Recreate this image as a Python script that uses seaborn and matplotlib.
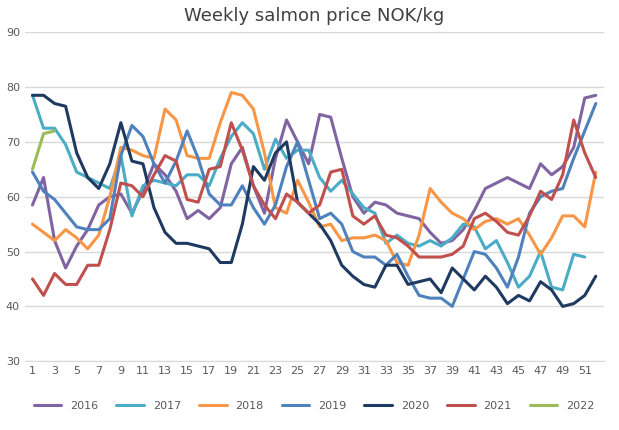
import numpy as np
import pandas as pd
import matplotlib
matplotlib.use("Agg")
import matplotlib.pyplot as plt
import seaborn as sns

weeks = list(range(1, 53))
nan = np.nan

s2016 = [58.5, 63.5, 52, 47, 51, 54, 58.5, 60, 60.5, 57, 61, 66, 64, 61, 56, 57.5, 56, 58, 66, 69,
         62, 57, 67, 74, 70, 66, 75, 74.5, 67, 60, 57, 59, 58.5, 57, 56.5, 56, 53.5, 51.5, 52, 54,
         57.5, 61.5, 62.5, 63.5, 62.5, 61.5, 66, 64, 65.5, 69, 78, 78.5]
s2017 = [78.5, 72.5, 72.5, 69.5, 64.5, 63.5, 62.5, 61.5, 67.5, 56.5, 62, 63, 62.5, 62, 64, 64, 62, 67, 71, 73.5,
         71.5, 65, 70.5, 67, 68.5, 68.5, 63.5, 61, 63, 60.5, 58, 57, 51.5, 53, 51.5, 51, 52, 51, 52.5, 55,
         54.5, 50.5, 52, 48, 43.5, 45.5, 50, 43.5, 43, 49.5, 49, nan]
s2018 = [55, 53.5, 52, 54, 52.5, 50.5, 53, 60, 69, 68.5, 67.5, 67, 76, 74, 67.5, 67, 67, 73.5, 79, 78.5,
         76, 68, 58, 57, 63, 59, 54.5, 55, 52, 52.5, 52.5, 53, 52, 48, 47.5, 53, 61.5, 59, 57, 56,
         54, 55.5, 56, 55, 56, 53, 49.5, 52.5, 56.5, 56.5, 54.5, 64.5]
s2019 = [64.5, 61, 59.5, 57, 54.5, 54, 54, 56, 67.5, 73, 71, 66, 62.5, 66.5, 72, 67, 60.5, 58.5, 58.5, 62,
         58, 55, 58.5, 65.5, 70, 63, 56, 57, 55, 50, 49, 49, 47.5, 49.5, 45.5, 42, 41.5, 41.5, 40, 45,
         50, 49.5, 47, 43.5, 49, 57, 60, 61, 61.5, 67, 72, 77]
s2020 = [78.5, 78.5, 77, 76.5, 68, 63.5, 61.5, 66, 73.5, 66.5, 66, 58, 53.5, 51.5, 51.5, 51, 50.5, 48, 48, 55,
         65.5, 63, 68, 70, 59, 57, 55, 52, 47.5, 45.5, 44, 43.5, 47.5, 47.5, 44, 44.5, 45, 42.5, 47, 45,
         43, 45.5, 43.5, 40.5, 42, 41, 44.5, 43, 40, 40.5, 42, 45.5]
s2021 = [45, 42, 46, 44, 44, 47.5, 47.5, 54, 62.5, 62, 60, 64, 67.5, 66.5, 59.5, 59, 65, 65.5, 73.5, 68.5,
         62, 58.5, 56, 60.5, 59, 57, 58.5, 64.5, 65, 56.5, 55, 56.5, 53, 52.5, 51, 49, 49, 49, 49.5, 51,
         56, 57, 55.5, 53.5, 53, 56.5, 61, 59.5, 64, 74, 68, 63.5]
s2022 = [65, 71.5, 72] + [nan] * 49

years = ["2016", "2017", "2018", "2019", "2020", "2021", "2022"]
colors = ["#8064A2", "#4BACC6", "#F79646", "#4F81BD", "#1F3A60", "#C0504D", "#9BBB59"]

df = pd.DataFrame({"week": weeks, "2016": s2016, "2017": s2017, "2018": s2018, "2019": s2019,
                   "2020": s2020, "2021": s2021, "2022": s2022})
long = df.melt(id_vars="week", var_name="year", value_name="price").dropna()

sns.set_style("white")
fig, ax = plt.subplots(figsize=(6.19, 4.30), dpi=100)
sns.lineplot(data=long, x="week", y="price", hue="year", hue_order=years,
             palette=colors, linewidth=2.2, ax=ax)

ax.set_xlim(0.3, 52.7)
ax.set_ylim(30, 90)
ax.set_xticks(range(1, 52, 2))
ax.set_yticks(range(30, 91, 10))
ax.tick_params(labelsize=8, colors="#595959", length=0)
ax.grid(axis="y", color="#D9D9D9", linewidth=1)
ax.set_axisbelow(True)
for side in ["top", "right", "left"]:
    ax.spines[side].set_visible(False)
ax.spines["bottom"].set_color("#D9D9D9")
ax.set_xlabel("")
ax.set_ylabel("")
ax.set_title("Weekly salmon price NOK/kg", fontsize=13, color="#404040", pad=8)
ax.legend(loc="upper center", bbox_to_anchor=(0.5, -0.09), ncol=7, frameon=False,
          fontsize=8, handlelength=2.5, columnspacing=1.6, labelcolor="#595959")

fig.subplots_adjust(left=0.04, right=0.975, top=0.925, bottom=0.16)
fig.savefig("out.png", dpi=100)
